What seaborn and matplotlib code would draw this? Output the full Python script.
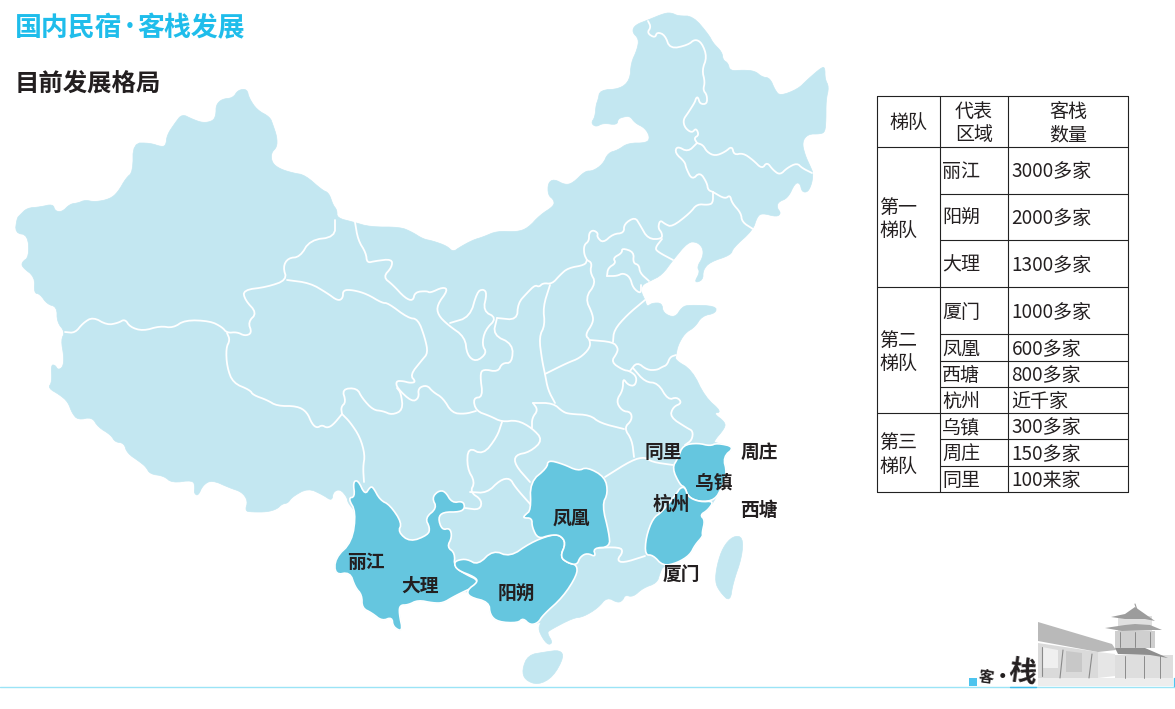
import matplotlib
matplotlib.use("Agg")
import matplotlib.pyplot as plt
import numpy as np
import seaborn as sns

sns.set_theme(style="white")
plt.rcParams["font.family"] = ["Noto Sans CJK SC", "DejaVu Sans"]

LIGHT = "#C3E7F1"
DARK = "#65C6DF"
CYAN = "#1FBDEB"
INK = "#231F20"

# outlines in pixels
mainland = [
    (17,218),(20,215),(27,208),(40,207),(53,204),(55,211),(62,212),(70,204),(78,203),(85,200),(95,202),(110,199),
    (118,192),(126,178),(133,172),(133,143),(150,143),(162,147),(166,145),(167,135),(175,123),(182,114),(192,119),
    (203,123),(213,121),(216,115),(216,105),(222,99),(233,98),(238,90),(247,89),(249,98),(257,110),(270,117),
    (273,125),(277,137),(277,147),(271,153),(272,163),(280,169),(293,173),(305,175),(322,190),(329,193),(333,205),
    (337,210),(337,218),(353,222),(370,227),(400,227),(412,232),(423,239),(433,241),(447,246),(453,252),(460,247),
    (473,240),(483,237),(497,231),(517,232),(528,228),(540,215),(554,206),(554,200),(548,195),(548,183),(554,179),
    (565,185),(573,183),(585,171),(593,171),(603,164),(608,153),(618,150),(628,143),(647,143),(650,137),(645,128),
    (635,123),(630,116),(623,117),(618,119),(617,125),(603,123),(596,127),(591,123),(595,117),(596,105),(598,100),
    (600,90),(620,89),(630,80),(631,63),(637,50),(639,39),(632,32),(635,25),(648,20),(665,13),(672,13),(678,16),
    (693,16),(709,35),(713,43),(722,52),(723,60),(728,63),(730,71),(743,70),(755,71),(762,77),(770,78),(775,90),
    (780,96),(798,89),(807,80),(822,67),(825,68),(825,79),(829,87),(826,100),(826,120),(825,132),(820,134),(808,134),
    (802,142),(805,155),(811,168),(813,173),(812,183),(808,192),(802,192),(800,183),(795,183),(788,198),(778,202),
    (777,208),(781,213),(777,217),(762,213),(757,217),(753,230),(733,248),(731,255),(710,262),(703,270),(703,280),
    (694,283),(700,272),(697,267),(703,257),(703,248),(697,242),(688,242),(673,260),(662,275),(650,281),(642,285),
    (641,292),(645,300),(647,307),(652,303),(662,303),(663,313),(675,318),(682,307),(689,305),(716,306),(716,313),
    (702,316),(695,327),(685,333),(678,345),(676,355),(675,360),(692,370),(705,397),(722,412),(713,413),(725,422),
    (725,428),(713,442),(717,443),(735,447),(723,457),(727,473),(722,487),(714,501),(708,510),(700,515),(705,520),
    (702,533),(703,536),(695,545),(690,555),(677,563),(663,566),(660,573),(657,583),(643,588),(633,597),(625,595),
    (623,600),(618,603),(607,597),(598,608),(583,617),(573,618),(550,630),(547,633),(553,643),(547,645),(538,630),
    (541,622),(538,623),(530,625),(523,618),(518,623),(498,622),(490,615),(489,602),(469,597),(467,590),(453,597),
    (443,603),(433,603),(418,600),(408,605),(400,605),(399,613),(403,632),(393,627),(392,617),(382,621),(372,613),
    (362,608),(362,595),(355,587),(350,572),(335,575),(335,558),(352,542),(356,512),(348,503),(347,497),(340,489),
    (333,492),(332,501),(323,495),(308,488),(292,497),(288,503),(282,504),(277,509),(267,512),(252,512),(245,511),
    (248,501),(242,492),(230,488),(212,480),(203,485),(198,496),(194,493),(195,487),(193,480),(172,483),(164,476),
    (150,474),(146,467),(140,462),(127,453),(124,443),(115,442),(111,435),(98,427),(92,417),(78,420),(72,413),(68,402),
    (60,395),(48,388),(52,382),(51,365),(55,365),(58,370),(63,367),(64,357),(61,340),(65,332),(57,322),(57,307),(47,304),
    (40,294),(34,293),(35,277),(22,267),(22,262),(29,257),(28,235),(15,233),
]
hainan = [(560,650),(564,657),(553,677),(538,685),(525,680),(522,670),(528,655),(545,652)]
taiwan = [(733,536),(743,537),(742,557),(733,583),(730,602),(720,592),(715,582),(717,565),(723,547)]

yunnan = [
    (348,498),(355,497),(353,482),(358,480),(365,495),(370,487),(373,487),(380,500),(390,505),(402,523),(398,532),
    (410,542),(428,535),(430,528),(425,518),(437,508),(432,498),(438,491),(445,491),(452,503),(463,501),(465,508),
    (460,512),(443,512),(438,518),(442,530),(450,528),(452,537),(447,547),(455,553),(454,567),(467,575),(478,580),
    (475,587),(467,590),(453,597),(443,603),(433,603),(418,600),(408,605),(400,605),(399,613),(403,632),(393,627),
    (392,617),(382,621),(372,613),(362,608),(362,595),(355,587),(350,572),(335,575),(335,558),(352,542),(356,512),
]
guangxi = [
    (458,560),(467,559),(478,565),(493,550),(510,557),(530,543),(550,535),(560,535),(566,543),(560,557),(568,563),
    (577,565),(577,575),(563,597),(543,615),(538,623),(530,625),(523,618),(518,623),(498,622),(490,615),(489,602),
    (469,597),(467,590),(478,582),(475,577),(457,570),(454,563),
]
hunan = [
    (530,482),(547,468),(548,460),(563,464),(578,471),(587,467),(605,477),(608,493),(602,505),(609,533),(610,547),
    (593,548),(596,557),(587,553),(580,557),(577,565),(568,563),(560,557),(566,543),(560,535),(550,535),(538,539),
    (532,527),(532,518),(523,518),(525,515),(531,510),
]
zhejiang = [
    (683,445),(698,443),(710,446),(717,443),(735,447),(723,457),(727,473),(722,487),(715,500),(700,502),(688,497),
    (685,487),(680,485),(672,468),(678,458),
]
fujian = [
    (685,487),(688,497),(700,502),(714,501),(708,510),(700,515),(705,520),(702,533),(703,536),(695,545),(690,555),
    (677,563),(663,566),(653,555),(645,555),(646,537),(653,518),(662,512),(677,493),(680,488),
]

borders = [
    [(65,332),(75,333),(83,323),(93,317),(107,325),(118,323),(125,319),(130,327),(143,331),(160,326),(173,328),(185,320),
     (210,321),(222,327),(227,333),(237,332),(245,336),(252,333),(248,322),(257,313),(245,300),(243,290),(267,287),
     (287,280),(283,267),(288,258),(300,257),(310,240),(335,237),(335,220)],
    [(227,333),(230,340),(226,348),(227,367),(233,383),(250,390),(253,395),(267,400),(277,406),(297,406),(307,412),
     (312,424),(317,428),(322,425),(327,428),(333,425),(342,414)],
    [(342,414),(341,407),(346,402),(342,389),(357,388),(362,398),(373,410),(383,411),(392,415),(403,410),(401,393),(397,388)],
    [(342,414),(350,422),(360,437),(365,455),(363,467),(364,482)],
    [(287,280),(310,283),(327,293),(338,301),(343,298),(343,290),(353,290),(367,294),(382,303),(388,303),(408,318),
     (418,319),(425,338),(428,353),(422,360),(410,375),(416,382),(410,383),(403,381),(396,381),(397,388),(412,402),
     (419,398),(418,388),(427,385),(433,392),(443,398),(452,413),(465,414),(476,411)],
    [(355,222),(358,240),(366,253),(367,263),(375,261),(392,259),(392,267),(383,277),(393,285),(405,298),(413,301),
     (415,292),(427,291),(430,293),(443,287),(448,290),(437,305),(438,315),(448,325),(465,337),(467,355),(476,362),
     (487,353),(482,345),(485,330),(497,318),(483,311),(487,293),(483,289),(477,292),(470,317),(450,323)],
    [(497,318),(517,320),(518,303),(527,293),(535,285),(539,287),(543,283),(552,284),(560,275),(568,268),(585,265),(587,260)],
    [(497,318),(493,335),(513,344),(512,363),(502,363),(498,372),(483,369),(480,375),(483,397),(473,398),(476,411),
     (490,416),(502,422),(517,420),(532,428),(543,440),(530,452),(515,455),(515,465),(530,482)],
    [(502,422),(497,437),(483,455),(468,447),(467,468),(475,482),(470,492),(482,500),(480,510),(465,508)],
    [(470,492),(487,493),(500,480),(510,478),(515,487),(531,505)],
    [(533,403),(553,403),(563,412),(570,414),(590,415),(600,423),(624,429)],
    [(533,403),(538,410),(532,418),(532,428)],
    [(550,285),(543,307),(545,325),(539,337),(542,360),(545,374),(548,390),(555,403)],
    [(545,374),(567,363),(580,358),(590,348),(590,340),(585,335),(593,323),(593,315),(585,298),(596,283),(590,272),(592,263),(587,260)],
    [(590,340),(613,342),(618,348),(617,353),(611,362),(623,370),(630,371),(637,377),(635,386),(628,385),(623,378),
     (623,390),(616,401),(622,411),(631,412),(632,420),(624,428),(632,440),(634,457)],
    [(613,342),(614,330),(627,315),(645,300)],
    [(630,371),(637,362),(647,370),(657,370),(662,367),(667,365),(670,357),(676,355)],
    [(633,368),(645,382),(658,383),(668,400),(677,397),(682,403),(673,407),(670,417),(687,428),(693,431),(692,440),(685,445)],
    [(605,477),(632,460),(645,457),(652,462),(673,465)],
    [(593,548),(620,547),(623,552),(617,560),(623,563),(645,556)],
    [(648,21),(651,27),(647,33),(655,38),(657,32),(665,35),(670,49),(688,45),(695,39),(702,43),(707,57),(702,70),(705,82),
     (703,90),(707,95),(707,104),(700,104),(698,97),(696,98),(695,102),(688,113),(683,120),(685,128),(692,133),(696,128),
     (699,135),(694,138),(697,143)],
    [(697,143),(703,145),(707,152),(715,156),(725,152),(732,146),(734,155),(743,153),(753,160),(762,169),(767,162),
     (773,170),(780,175),(787,168),(797,163),(802,168),(812,173)],
    [(697,143),(688,152),(677,146),(675,153),(685,162),(686,168),(692,180),(700,172),(707,183),(708,190),(713,192)],
    [(713,192),(725,199),(730,195),(732,203),(741,213),(742,222),(753,229)],
    [(713,192),(713,203),(708,205),(697,204),(690,213),(672,227),(665,224),(660,220),(658,228),(662,233),(662,239),
     (648,239),(640,225),(635,217),(624,224),(624,233),(613,234),(603,243),(597,237),(598,233),(593,230),(589,233),
     (589,241),(584,245),(584,254),(587,260)],
    [(662,239),(655,248),(658,252),(673,260)],
    [(607,276),(608,268),(616,263),(613,258),(622,253),(622,248),(634,252),(633,263),(639,265),(640,273),(649,281)],
    [(607,276),(617,276),(623,273),(630,277),(633,288),(641,294),(641,285)],
]

# table
tier_names = ["第一\n梯队", "第二\n梯队", "第三\n梯队"]
tier_rows = [3, 4, 3]
areas = ["丽江", "阳朔", "大理", "厦门", "凤凰", "西塘", "杭州", "乌镇", "周庄", "同里"]
counts = ["3000多家", "2000多家", "1300多家", "1000多家", "600多家", "800多家", "近千家", "300多家", "150多家", "100来家"]
header = ["梯队", "代表\n区域", "客栈\n数量"]
col_edges = [877, 940, 1008, 1128]
row_edges = [96, 146.5, 193.5, 240, 287, 334, 361, 387, 413, 439, 466, 492]

# labels on the map
map_labels = ["丽江", "大理", "阳朔", "凤凰", "厦门", "杭州", "乌镇", "同里", "周庄", "西塘"]
label_x = [366, 420, 516, 571, 681, 671, 714, 663, 759, 759]
label_y = [563, 586, 594, 518, 574, 504, 483, 452, 452, 511]


def smooth(pts, closed=False, rounds=2):
    # corner cutting, the source map has soft curves
    p = np.array(pts, dtype=float)
    for _ in range(rounds):
        nxt = np.roll(p, -1, axis=0) if closed else p[1:]
        cur = p if closed else p[:-1]
        q = np.empty((len(cur) * 2, 2))
        q[0::2] = 0.75 * cur + 0.25 * nxt
        q[1::2] = 0.25 * cur + 0.75 * nxt
        p = q if closed else np.vstack([p[0], q, p[-1]])
    return p


def draw_line(ax, pts, color="white", lw=1.3, soft=True):
    p = smooth(pts) if soft else np.array(pts, dtype=float)
    sns.lineplot(x=p[:, 0], y=p[:, 1], sort=False, estimator=None, ax=ax, color=color, linewidth=lw,
                 legend=False, solid_joinstyle="round", solid_capstyle="round")


fig = plt.figure(figsize=(11.75, 7.09), dpi=100, facecolor="white")
ax = fig.add_axes([0, 0, 1, 1])

for shape in [mainland, hainan, taiwan]:
    p = smooth(shape, closed=True)
    ax.fill(p[:, 0], p[:, 1], color=LIGHT, lw=0.5, joinstyle="round")

for pts in borders:
    draw_line(ax, pts)

for shape in [yunnan, guangxi, hunan, zhejiang, fujian]:
    p = smooth(shape, closed=True)
    ax.fill(p[:, 0], p[:, 1], facecolor=DARK, edgecolor="white", lw=1.2, joinstyle="round", zorder=3)

for name, x, y in zip(map_labels, label_x, label_y):
    ax.text(x, y, name, ha="center", va="center", fontsize=13.5, fontweight="bold", color=INK, zorder=5)

ax.text(15, 28, "国内民宿", ha="left", va="center", fontsize=19.4, fontweight="black", color=CYAN)
ax.text(130, 27, "•", ha="center", va="center", fontsize=11, fontweight="bold", color=CYAN, family="DejaVu Sans")
ax.text(137, 28, "客栈发展", ha="left", va="center", fontsize=19.4, fontweight="black", color=CYAN)
ax.text(15, 84, "目前发展格局", ha="left", va="center", fontsize=17.6, fontweight="black", color=INK)

# table grid
tier_ends = np.cumsum(tier_rows)
for i, y in enumerate(row_edges):
    full = i == 0 or i - 1 == 0 or (i - 1) in tier_ends
    x0 = col_edges[0] if full else col_edges[1]
    draw_line(ax, [(x0, y), (col_edges[-1], y)], color="#222222", lw=0.8, soft=False)
for x in col_edges:
    draw_line(ax, [(x, row_edges[0]), (x, row_edges[-1])], color="#222222", lw=0.8, soft=False)

for j, txt in enumerate(header):
    ax.text((col_edges[j] + col_edges[j + 1]) / 2, (row_edges[0] + row_edges[1]) / 2 + 1.5, txt, ha="center", va="center",
            fontsize=13.7, color=INK, linespacing=1.15)
for i, (a, c) in enumerate(zip(areas, counts)):
    cy = (row_edges[i + 1] + row_edges[i + 2]) / 2 + 1.5
    ax.text(col_edges[1] + 2, cy, a, ha="left", va="center", fontsize=13.7, color=INK)
    ax.text(col_edges[2] + 3.5, cy, c, ha="left", va="center", fontsize=13.7, color=INK)
start = 0
for name, n in zip(tier_names, tier_rows):
    cy = (row_edges[start + 1] + row_edges[start + n + 1]) / 2 + 2
    ax.text(col_edges[0] + 2, cy, name, ha="left", va="center", fontsize=13.7, color=INK, linespacing=1.15)
    start += n

# bottom strip and the little sketch of the inn
draw_line(ax, [(0, 686.5), (1175, 686.5)], color="#9BE4F6", lw=1.0, soft=False)
draw_line(ax, [(1010, 686.5), (1036, 686.5)], color="#3DBDEB", lw=1.0, soft=False)
ax.fill([969, 977, 977, 969], [678, 678, 686, 686], color="#4DC4EE", lw=0)
ax.text(986, 677, "客", ha="center", va="center", fontsize=11, fontweight="black", color=INK, rotation=-8)
ax.text(1002, 677, "·", ha="center", va="center", fontsize=14, fontweight="black", color=INK)
ax.text(1023, 673, "栈", ha="center", va="center", fontsize=20, fontweight="black", color=INK, rotation=-8)

# wall
ax.fill([1038, 1098, 1098, 1038], [643, 652, 678, 680], color="#DADADA", lw=0)
ax.fill([1038, 1112, 1116, 1098, 1038], [622, 644, 650, 652, 641], color="#B9B9B9", lw=0)
ax.fill([1042, 1058, 1058, 1042], [647, 650, 668, 668], color="#EFEFEF", lw=0)
ax.fill([1066, 1082, 1082, 1066], [651, 653, 672, 672], color="#C8C8C8", lw=0)
ax.fill([1098, 1115, 1115, 1098], [652, 654, 676, 678], color="#E6E6E6", lw=0)
# pagoda
ax.fill([1118, 1152, 1152, 1118], [616, 616, 631, 631], color="#E0E0E0", lw=0)
ax.fill([1115, 1155, 1155, 1115], [631, 631, 648, 648], color="#CFCFCF", lw=0)
ax.fill([1115, 1173, 1173, 1115], [655, 655, 678, 678], color="#DEDEDE", lw=0)
ax.fill([1111, 1125, 1135, 1145, 1155, 1145, 1125], [617, 614, 607, 614, 621, 619, 619], color="#9C9C9C", lw=0)
ax.fill([1105, 1125, 1135, 1150, 1162, 1150, 1122], [628, 625, 624, 625, 630, 630, 631], color="#A3A3A3", lw=0)
ax.fill([1115, 1145, 1168, 1150, 1118], [648, 648, 658, 655, 654], color="#8E8E8E", lw=0)
for x0, x1 in [(1120, 1120), (1135, 1135), (1150, 1150), (1125, 1125), (1144, 1144), (1160, 1160)]:
    y0, y1 = (632, 647) if x0 in (1120, 1135, 1150) else (656, 678)
    ax.plot([x0, x1], [y0, y1], color="#7E7E7E", lw=0.6)
for xs, ys in [([1042, 1042], [647, 676]), ([1063, 1060], [650, 678]), ([1092, 1089], [654, 678])]:
    ax.plot(xs, ys, color="#8A8A8A", lw=0.8)
ax.plot([1135, 1137], [604, 610], color="#9C9C9C", lw=0.8)
ax.fill([1038, 1173, 1173, 1038], [678, 678, 686, 686], color="#EDEDED", lw=0)
draw_line(ax, [(1173.5, 678), (1173.5, 686)], color="#4DC4EE", lw=1.0, soft=False)

ax.set_xlim(0, 1175)
ax.set_ylim(709, 0)
ax.axis("off")
fig.savefig("out.png", dpi=100)
